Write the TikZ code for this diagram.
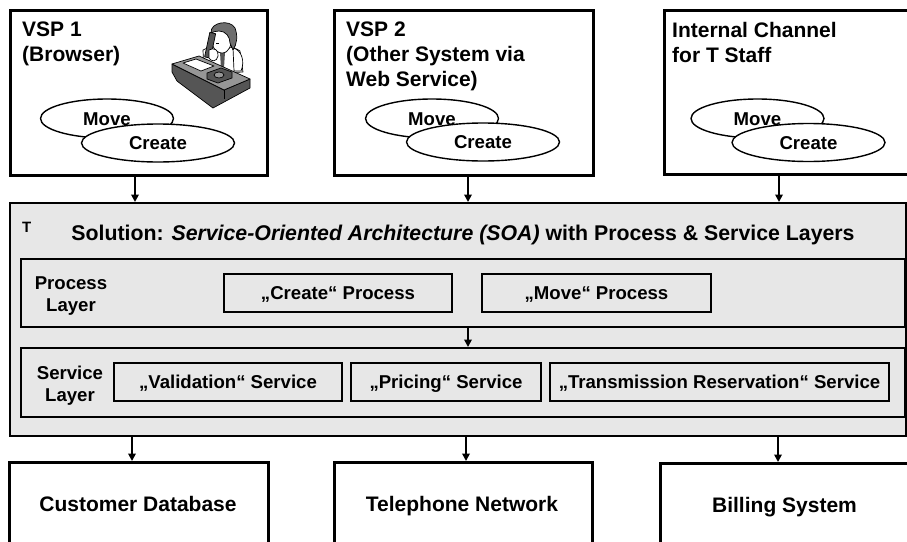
\documentclass[tikz,border=0pt]{standalone}
\usepackage{fontspec}
\setmainfont{Liberation Sans}
\usetikzlibrary{arrows.meta,shapes.geometric}

\definecolor{panel}{RGB}{231,231,231}
\definecolor{deskgray}{RGB}{85,85,85}
\definecolor{hairgray}{RGB}{110,110,110}
\definecolor{desktop}{RGB}{150,150,150}

\tikzset{
  x=1pt, y=-1pt,
  bigfont/.style={font=\fontsize{21}{25}\selectfont\bfseries},
  smallfont/.style={font=\fontsize{18.6}{22}\selectfont\bfseries},
  outerbox/.style={draw, line width=2.6pt, fill=white, anchor=north west, inner sep=0pt},
  layerbox/.style={draw, line width=2.3pt, fill=panel, anchor=north west, inner sep=0pt},
  itembox/.style={draw, line width=2.3pt, fill=panel, smallfont, inner sep=0pt,
    text height=13.3pt, text depth=0pt, minimum height=38pt},
  usecase/.style={draw, ellipse, line width=1.4pt, fill=white, smallfont, inner sep=0pt,
    text height=13.3pt, text depth=0pt},
  movecase/.style={usecase, minimum width=133pt, minimum height=39pt},
  createcase/.style={usecase, minimum width=153pt, minimum height=38pt},
  boxlabel/.style={bigfont, align=left, anchor=north west, inner sep=0pt},
  layerlabel/.style={smallfont, align=center, anchor=north, inner sep=0pt},
  syslabel/.style={bigfont, anchor=base, inner sep=0pt},
  link/.style={line width=1.8pt, -{Triangle[length=7.5pt,width=7.5pt]}},
}

\begin{document}
\begin{tikzpicture}
\clip (0,0) rectangle (907,541);
\fill[white] (0,0) rectangle (907,541);

% ---------- channels ----------
\node[outerbox, minimum width=257pt, minimum height=165pt] (vsp1) at (9,9) {};
\node[outerbox, minimum width=259pt, minimum height=165pt] (vsp2) at (333,9) {};
\node[outerbox, minimum width=300pt, minimum height=164pt] (intern) at (663,9) {};

\node[boxlabel] (vsp1txt) at (22,22) {VSP 1\\(Browser)};
\node[boxlabel] (vsp2txt) at (346,22) {VSP 2\\(Other System via\\Web Service)};
\node[boxlabel] (interntxt) at (672,22) {Internal Channel\\for T Staff};

% use cases in each channel
\node[movecase] (move1) at (107,118.5) {Move};
\node[createcase] (create1) at (158,143) {Create};
\node[movecase] (move2) at (432,118.5) {Move};
\node[createcase] (create2) at (483,142) {Create};
\node[movecase] (move3) at (757.5,118.5) {Move};
\node[createcase] (create3) at (808.5,142.5) {Create};

% clerk at a desk with a telephone
\begin{scope}[line width=0.7pt, line join=round]
  % torso and shirt
  \filldraw[fill=white] (203,50) .. controls (211,45) and (233,45) .. (240,51)
    -- (243,72) -- (204,74) -- cycle;
  \fill[deskgray] (220,52) -- (225,52) -- (224,68) -- (221,69) -- cycle;
  \filldraw[fill=white] (233,48) .. controls (242,50) and (245,62) .. (241,71)
    -- (234,71) -- cycle;
  % face
  \filldraw[fill=white] (212,31) .. controls (209,42) and (214,53) .. (222,53)
    .. controls (229,53) and (232,45) .. (231,37)
    .. controls (229,30) and (216,27) .. (212,31) -- cycle;
  % hair on top and at the back of the head
  \filldraw[fill=hairgray] (211,33) .. controls (210,22) and (230,19) .. (235,28)
    .. controls (238,36) and (237,44) .. (233,50) -- (230,43)
    .. controls (230,37) and (226,31) .. (219,31)
    .. controls (216,31) and (213,32) .. (211,33) -- cycle;
  \draw (216,43) -- (219,43);
  % handset and hand
  \filldraw[fill=deskgray, rotate around={-12:(211,46)}] (207,33) rectangle (213,58);
  \filldraw[fill=white] (209,50) .. controls (214,47) and (219,50) .. (218,56)
    .. controls (217,62) and (211,62) .. (209,58) -- cycle;
  % desk
  \filldraw[fill=deskgray] (172,64) -- (224,90) -- (250,79) -- (250,88)
    -- (213,108) -- (177,81) -- (172,72) -- cycle;
  \filldraw[fill=desktop] (172,64) -- (199,56) -- (250,79) -- (224,90) -- cycle;
  \draw (224,90) -- (224,99);
  % papers
  \filldraw[fill=white] (183,63) -- (196,59) -- (214,66) -- (201,71) -- cycle;
  % telephone
  \filldraw[fill=deskgray] (207,73) -- (221,68) -- (232,72) -- (232,78)
    -- (218,83) -- (207,79) -- cycle;
  \filldraw[fill=desktop] (219,75) ellipse (5 and 3);
\end{scope}

% ---------- SOA solution ----------
\node[layerbox, line width=2pt, minimum width=896pt, minimum height=233pt] (soa) at (9,202) {};
\node[font=\fontsize{15}{17}\selectfont\bfseries, anchor=base west, inner sep=0pt] (tag) at (22,232) {T};
\node[font=\fontsize{21.3}{25}\selectfont\bfseries, anchor=base, inner sep=0pt] (title) at (463,240)
  {Solution: \textit{Service-Oriented Architecture (SOA)} with Process \& Service Layers};

% process layer
\node[layerbox, minimum width=884pt, minimum height=68pt] (proc) at (20,258) {};
\node[layerlabel] (proctxt) at (71,276.5) {Process\\Layer};
\node[itembox, minimum width=228pt] (pcreate) at (338,293) {„Create“ Process};
\node[itembox, minimum width=229pt] (pmove) at (596.5,293) {„Move“ Process};

% service layer
\node[layerbox, minimum width=884pt, minimum height=69pt] (serv) at (20,347) {};
\node[layerlabel] (servtxt) at (70,365.5) {Service\\Layer};
\node[itembox, minimum width=228pt] (sval) at (228,382) {„Validation“ Service};
\node[itembox, minimum width=190pt] (sprice) at (446,382) {„Pricing“ Service};
\node[itembox, minimum width=339pt] (strans) at (719.5,382) {„Transmission Reservation“ Service};

% ---------- back-end systems ----------
\node[outerbox, minimum width=259pt, minimum height=120pt] (cdb) at (8,461) {};
\node[outerbox, minimum width=258pt, minimum height=120pt] (tel) at (333,461) {};
\node[outerbox, minimum width=300pt, minimum height=120pt] (bill) at (659,462) {};
\node[syslabel] (cdbtxt) at (138,511) {Customer Database};
\node[syslabel] (teltxt) at (462,511) {Telephone Network};
\node[syslabel] (billtxt) at (784.5,512) {Billing System};

% ---------- connectors ----------
\coordinate (a1) at (135,0);
\coordinate (a2) at (468,0);
\coordinate (a3) at (779,0);
\coordinate (b1) at (132,0);
\coordinate (b2) at (466,0);
\coordinate (b3) at (778,0);

\draw[link] (vsp1.south -| a1) -- (soa.north -| a1);
\draw[link] (vsp2.south -| a2) -- (soa.north -| a2);
\draw[link] (intern.south -| a3) -- (soa.north -| a3);
\draw[link] (proc.south -| a2) -- (serv.north -| a2);
\draw[link] (soa.south -| b1) -- (cdb.north -| b1);
\draw[link] (soa.south -| b2) -- (tel.north -| b2);
\draw[link] (soa.south -| b3) -- (bill.north -| b3);
\end{tikzpicture}
\end{document}
